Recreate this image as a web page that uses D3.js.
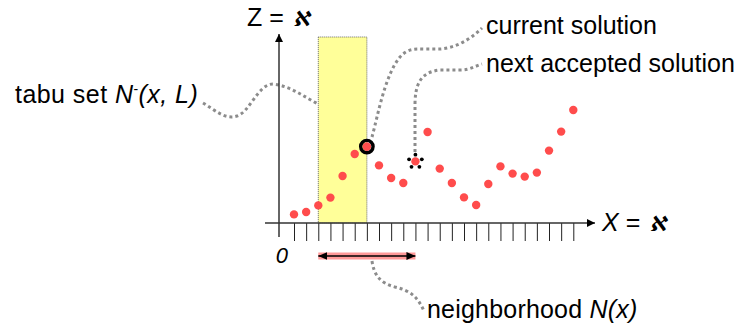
<!DOCTYPE html>
<html>
<head>
<meta charset="utf-8">
<script src="https://cdn.jsdelivr.net/npm/d3@7"></script>
<style>
  html, body { margin: 0; padding: 0; background: #fff; }
  svg { display: block; font-family: "Liberation Sans", Arial, sans-serif; }
</style>
</head>
<body>
<svg id="chart" width="745" height="326"></svg>
<script>
// Solution positions along X and their objective values Z
const positions = [1, 2, 3, 4, 5, 6, 7, 8, 9, 10, 11, 12, 13, 14, 15, 16, 17, 18, 19, 20, 21, 22, 23, 24];
const zValues   = [0.43, 0.55, 0.88, 1.27, 2.35, 3.45, 3.82, 2.88, 2.25, 2.0, 3.08, 4.55,
                   2.72, 2.0, 1.28, 0.9, 1.95, 2.83, 2.47, 2.32, 2.52, 3.62, 4.57, 5.65];
const tickValues = [1, 2, 3, 4, 5, 6, 7, 8, 9, 10, 11, 12, 13, 14, 15, 16, 17, 18, 19, 20, 21, 22, 23, 24];
const tickLabels = ["0"];
const currentPos = 7;
const nextPos = 11;
const tabuRange = [3, 7];
const neighborhoodRange = [3, 11];
const tabuTop = 9.3;

const svg = d3.select("#chart");
const x = d3.scaleLinear().domain([1, 24]).range([294, 573.3]);
const y = d3.scaleLinear().domain([0, 10]).range([223, 23]);
const originX = 279;

const defs = svg.append("defs");
function arrowMarker(id, w, h, orient) {
  defs.append("marker")
    .attr("id", id).attr("viewBox", `0 0 ${w} ${h}`)
    .attr("refX", w).attr("refY", h / 2)
    .attr("markerWidth", w).attr("markerHeight", h)
    .attr("markerUnits", "userSpaceOnUse")
    .attr("orient", orient)
    .append("path").attr("d", `M0,0 L${w},${h / 2} L0,${h} Z`).attr("fill", "#000");
}
arrowMarker("axisHead", 8, 8, "auto");
arrowMarker("nbHead", 9, 8, "auto-start-reverse");

// tabu region
svg.append("rect")
  .attr("x", x(tabuRange[0])).attr("y", y(tabuTop))
  .attr("width", x(tabuRange[1]) - x(tabuRange[0]))
  .attr("height", y(0) - y(tabuTop))
  .attr("fill", "#ffff99")
  .attr("stroke", "#666").attr("stroke-width", 1).attr("stroke-dasharray", "1,1");

// leader lines
const leader = (d) => svg.append("path").attr("d", d)
  .attr("fill", "none").attr("stroke", "#8c8c8c")
  .attr("stroke-width", 3).attr("stroke-dasharray", "3,3");
leader("M203,103 C215,110 225,120 237,116 C250,112 258,84 273,84 C290,86 303,96 318,104");
leader("M372,137 C378,115 385,75 400,57 C408,48 415,49 425,49 L440,49 C455,48 470,40 482,28");
leader("M415,152 L415,105 C415,85 420,72 440,70 L460,70 C470,70 475,66 482,64");
leader("M372,261 C374,275 380,283 395,287 C412,291 418,298 424,311");

// axes
const xAxis = d3.axisBottom(x).tickValues(tickValues).tickSize(18).tickFormat("");
const gx = svg.append("g").attr("transform", `translate(0,${y(0)})`).call(xAxis);
gx.select(".domain").remove();
gx.selectAll(".tick line").attr("stroke", "#222").attr("stroke-width", 1);

svg.append("line")
  .attr("x1", 265).attr("x2", 595)
  .attr("y1", y(0)).attr("y2", y(0))
  .attr("stroke", "#333").attr("stroke-width", 1.5)
  .attr("marker-end", "url(#axisHead)");
svg.append("line")
  .attr("x1", originX).attr("x2", originX)
  .attr("y1", y(-0.7)).attr("y2", y(9.45))
  .attr("stroke", "#333").attr("stroke-width", 1.5)
  .attr("marker-end", "url(#axisHead)");

// neighborhood bar
const nbY = 256;
svg.append("rect")
  .attr("x", x(neighborhoodRange[0])).attr("y", nbY - 3.5)
  .attr("width", x(neighborhoodRange[1]) - x(neighborhoodRange[0]))
  .attr("height", 7).attr("fill", "#ff9999");
svg.append("line")
  .attr("x1", x(neighborhoodRange[0])).attr("x2", x(neighborhoodRange[1]))
  .attr("y1", nbY).attr("y2", nbY)
  .attr("stroke", "#000").attr("stroke-width", 1.5)
  .attr("marker-start", "url(#nbHead)").attr("marker-end", "url(#nbHead)");

// solutions
svg.append("g").selectAll("circle")
  .data(positions.map((p, i) => ({ p, z: zValues[i] })))
  .join("circle")
  .attr("cx", d => x(d.p)).attr("cy", d => y(d.z))
  .attr("r", 4.2).attr("fill", "#ff4c4c");

// current solution marker
svg.append("circle")
  .attr("cx", x(currentPos)).attr("cy", y(zValues[currentPos - 1]))
  .attr("r", 6.2).attr("fill", "none")
  .attr("stroke", "#000").attr("stroke-width", 3.4);
svg.append("circle")
  .attr("cx", x(currentPos)).attr("cy", y(zValues[currentPos - 1]))
  .attr("r", 4.2).attr("fill", "#ff4c4c");

// next accepted solution marker
const nx = x(nextPos), ny = y(zValues[nextPos - 1]);
svg.append("g").selectAll("circle")
  .data(d3.range(5))
  .join("circle")
  .attr("cx", k => nx + 6.7 * Math.sin(k * 2 * Math.PI / 5))
  .attr("cy", k => ny - 6.7 * Math.cos(k * 2 * Math.PI / 5))
  .attr("r", 1.9).attr("fill", "#000");

// labels
const txt = (px, py, size) => svg.append("text").attr("x", px).attr("y", py)
  .attr("font-size", size).attr("fill", "#000");

// slanted aleph placed after a label
function aleph(label) {
  const b = label.node().getBBox();
  const ax = b.x + b.width + 9, ay = +label.attr("y");
  svg.append("text")
    .attr("transform", `translate(${ax},${ay}) skewX(-14)`)
    .attr("font-family", "DejaVu Sans").attr("font-weight", "bold")
    .attr("font-size", 21).attr("fill", "#000").text("ℵ");
}

const zl = txt(247, 26, 25);
zl.append("tspan").text("Z =");
aleph(zl);

const xl = txt(602, 231, 25);
xl.append("tspan").attr("font-style", "italic").text("X");
xl.append("tspan").text(" =");
aleph(xl);

txt(x(0), 263, 22).attr("font-style", "italic").attr("text-anchor", "middle").text(tickLabels[0]);

const tl = txt(15, 103, 25).attr("letter-spacing", 0.45);
tl.append("tspan").text("tabu set ");
tl.append("tspan").attr("font-style", "italic").text("N");
tl.append("tspan").attr("font-size", 14).attr("dy", -9).text("-");
tl.append("tspan").attr("font-style", "italic").attr("dy", 9).text("(x, L)");

txt(486, 34, 25).text("current solution");
txt(486, 72, 25).text("next accepted solution");

const nl = txt(427, 318, 25).attr("letter-spacing", 0.2);
nl.append("tspan").text("neighborhood ");
nl.append("tspan").attr("font-style", "italic").text("N(x)");
</script>
</body>
</html>
